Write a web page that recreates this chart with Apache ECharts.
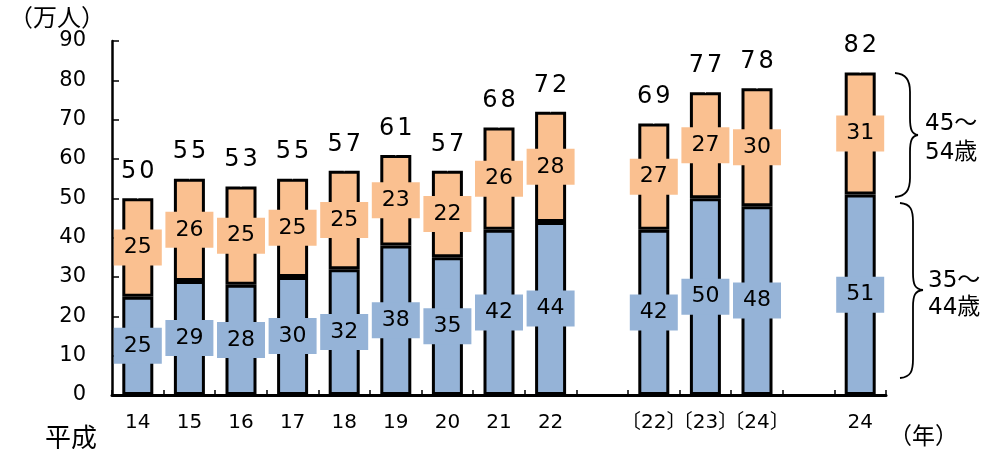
<!DOCTYPE html>
<html>
<head>
<meta charset="utf-8">
<script src="https://cdn.jsdelivr.net/npm/echarts@6/dist/echarts.min.js"></script>
<style>
  html, body { margin: 0; padding: 0; background: #fff; }
  #chart { width: 1008px; height: 449px; }
</style>
</head>
<body>
<div id="chart"></div>
<script>
// 年（平成）, 空欄は間隔
const years = ['14', '15', '16', '17', '18', '19', '20', '21', '22', '', '〔22〕', '〔23〕', '〔24〕', '', '24'];
const age35to44 = [25, 29, 28, 30, 32, 38, 35, 42, 44, '-', 42, 50, 48, '-', 51];
const age45to54 = [25, 26, 25, 25, 25, 23, 22, 26, 28, '-', 27, 27, 30, '-', 31];
const totals = [50, 55, 53, 55, 57, 61, 57, 68, 72, '-', 69, 77, 78, '-', 82];
const yTicks = [0, 10, 20, 30, 40, 50, 60, 70, 80, 90];

const font = '"DejaVu Sans", "Noto Sans CJK JP", sans-serif';
const jpFont = '"Noto Sans CJK JP", sans-serif';
const colorBlue = '#95B3D7';
const colorOrange = '#FAC090';

const chart = echarts.init(document.getElementById('chart'));

const boxLabel = (bg) => ({
    show: true,
    position: 'inside',
    color: '#000',
    fontFamily: font,
    fontSize: 22,
    backgroundColor: bg,
    padding: [8, 10, 6, 10],
    formatter: p => p.value
});

// 右側の波括弧 (x0: 端, xl: 縦線, xp: 先端)
const brace = (x0, xl, xp, yTop, yMid, yBot) => {
    const st = { stroke: '#000', lineWidth: 1.8, fill: 'none' };
    return [
        { type: 'bezierCurve', shape: { x1: x0, y1: yTop, cpx1: x0 + 11, cpy1: yTop + 1, cpx2: xl, cpy2: yTop + 7, x2: xl, y2: yTop + 19 }, style: st },
        { type: 'line', shape: { x1: xl, y1: yTop + 19, x2: xl, y2: yMid - 17 }, style: st },
        { type: 'bezierCurve', shape: { x1: xl, y1: yMid - 17, cpx1: xl, cpy1: yMid - 5, cpx2: xl + 2, cpy2: yMid - 1, x2: xp, y2: yMid }, style: st },
        { type: 'bezierCurve', shape: { x1: xp, y1: yMid, cpx1: xl + 2, cpy1: yMid + 1, cpx2: xl, cpy2: yMid + 5, x2: xl, y2: yMid + 17 }, style: st },
        { type: 'line', shape: { x1: xl, y1: yMid + 17, x2: xl, y2: yBot - 19 }, style: st },
        { type: 'bezierCurve', shape: { x1: xl, y1: yBot - 19, cpx1: xl, cpy1: yBot - 7, cpx2: x0 + 11, cpy2: yBot - 1, x2: x0, y2: yBot }, style: st }
    ];
};

const txt = (left, top, text, size, family, extra) => ({
    type: 'text', left, top,
    style: Object.assign({ text, fontSize: size, fontFamily: family, fill: '#000' }, extra || {})
});

chart.setOption({
    animation: false,
    backgroundColor: '#fff',
    grid: { left: 112, right: 122, top: 41, bottom: 54 },
    xAxis: {
        type: 'category',
        data: years,
        axisLine: { lineStyle: { color: '#000', width: 3 } },
        axisTick: { show: true, inside: true, length: 5, lineStyle: { color: '#000', width: 1.5 } },
        axisLabel: { interval: 0, color: '#000', fontFamily: font, fontSize: 20, margin: 18 }
    },
    yAxis: {
        type: 'value',
        min: yTicks[0],
        max: yTicks[yTicks.length - 1],
        interval: 10,
        axisLine: { show: true, lineStyle: { color: '#000', width: 2.5 } },
        axisTick: { show: true, inside: true, length: 7, lineStyle: { color: '#000', width: 1.5 } },
        axisLabel: { color: '#000', fontFamily: font, fontSize: 21, margin: 26 },
        splitLine: { show: false }
    },
    series: [
        {
            name: '35～44歳',
            type: 'bar',
            stack: 'total',
            barWidth: 31,
            data: age35to44,
            itemStyle: { color: colorBlue, borderColor: '#000', borderWidth: 3 },
            label: boxLabel(colorBlue)
        },
        {
            name: '45～54歳',
            type: 'bar',
            stack: 'total',
            barWidth: 31,
            data: age45to54,
            itemStyle: { color: colorOrange, borderColor: '#000', borderWidth: 3 },
            label: boxLabel(colorOrange)
        },
        {
            name: '計',
            type: 'scatter',
            symbolSize: 1,
            itemStyle: { color: '#fff', opacity: 1 },
            data: totals,
            silent: true,
            label: {
                show: true,
                position: 'top',
                distance: 14,
                color: '#000',
                opacity: 1,
                formatter: p => String(p.value).split('').map(d => '{d|' + d + '}').join(''),
                rich: {
                    d: { fontFamily: font, fontSize: 24, color: '#000', padding: [0, 1.5] }
                }
            }
        }
    ],
    graphic: [
        txt(9, 5, '（万人）', 24, jpFont),
        txt(45, 424, '平成', 26, jpFont),
        txt(889, 424, '（年）', 23, jpFont),
        ...brace(895, 910, 918, 73, 135, 197),
        ...brace(900, 913, 923, 203, 290, 378),
        txt(925, 110, '45～\n54歳', 23, font, { lineHeight: 29 }),
        txt(928, 268, '35～\n44歳', 23, font, { lineHeight: 27 })
    ]
});
</script>
</body>
</html>
